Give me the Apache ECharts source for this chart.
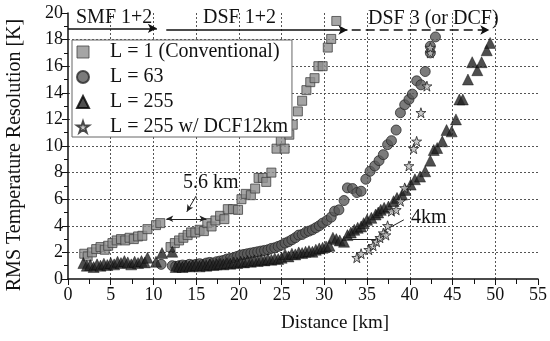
<!DOCTYPE html>
<html><head><meta charset="utf-8">
<script src="https://cdn.jsdelivr.net/npm/echarts@6/dist/echarts.min.js"></script>
<style>html,body{margin:0;padding:0;background:#fff}#c{width:550px;height:341px}</style>
</head><body><div id="c"></div>
<script>
var xTicks = [0,5,10,15,20,25,30,35,40,45,50,55];
var yTicks = [0,2,4,6,8,10,12,14,16,18,20];
var seriesNames = ['L = 1 (Conventional)','L = 63','L = 255','L = 255 w/ DCF12km'];

var sqDist = [1.9,2.3,2.8,3.3,3.8,4.3,4.7,5.2,5.7,6.2,6.7,7.2,7.7,8.2,8.7,9.3,10.3,10.8,
  12.0,12.5,13.0,13.5,14.0,14.4,14.9,15.4,15.9,16.3,16.8,17.25,17.8,18.3,18.7,19.3,19.9,20.3,20.8,21.4,21.9,22.3,22.8,23.2,23.8,24.4,24.9,25.35,25.9,26.3,26.9,27.4,27.9,28.35,28.85,29.3,29.8,30.4,30.8,31.4];
var sqVal = [1.9,1.7,2.0,2.25,2.4,2.2,2.5,2.7,2.9,3.0,2.9,3.1,3.0,3.2,3.25,3.75,4.05,4.2,
  2.4,2.7,2.9,3.1,3.3,3.5,3.5,3.7,3.6,4.2,3.95,4.4,4.75,4.5,5.25,5.25,5.2,6.0,6.4,6.3,6.8,7.6,7.6,7.3,8.0,9.8,10.4,9.8,10.85,11.6,12.6,13.4,14.2,14.8,15.1,16.0,16.0,17.4,18.05,19.4];

var ciDist = [10.9,12.2,12.6,13.0,13.4,13.8,14.2,14.6,15.0,15.4,15.8,16.2,16.6,17.0,17.4,17.8,18.2,18.6,19.0,19.4,19.8,20.2,20.6,21.0,21.4,21.8,22.2,22.6,23.0,23.4,23.8,24.2,24.6,25.0,25.4,25.8,26.2,26.6,27.0,27.4,27.8,28.2,28.6,29.0,29.4,29.8,30.3,30.8,31.2,31.7,32.3,32.7,33.3,33.8,34.3,34.85,35.35,35.9,36.4,36.9,37.4,37.85,38.4,38.9,39.4,39.9,40.3,40.8,41.3,41.8,42.4,42.4,43.0];
var ciVal = [1.1,1.0,0.95,1.0,1.05,1.0,1.1,1.05,1.1,1.15,1.1,1.2,1.25,1.2,1.3,1.35,1.4,1.5,1.55,1.6,1.7,1.8,1.85,1.9,1.95,2.0,2.05,2.1,2.15,2.2,2.3,2.35,2.45,2.55,2.7,2.8,2.95,3.1,3.3,3.35,3.5,3.6,3.7,3.85,4.0,4.2,4.4,4.65,5.1,5.2,5.9,6.85,6.8,6.5,6.6,7.5,8.1,8.5,8.9,9.35,10.1,10.4,11.2,12.5,13.1,13.5,13.9,14.9,14.6,15.6,17.0,17.5,18.2];

var trDist = [1.8,2.2,2.6,3.0,3.4,3.8,4.2,4.6,5.0,5.4,5.8,6.2,6.6,7.0,7.4,7.8,8.2,8.6,9.0,9.3,10.3,11.0,12.2,
  12.6,13.0,13.4,13.8,14.2,14.6,15.0,15.4,15.8,16.2,16.6,17.0,17.4,17.8,18.2,18.6,19.0,19.4,19.8,20.2,20.6,21.0,21.4,21.8,22.2,22.6,23.0,23.4,23.8,24.2,24.6,25.0,25.4,25.8,26.2,26.6,27.0,27.4,27.8,28.2,28.6,29.0,29.4,29.8,30.2,30.6,31.0,31.4,31.8,32.3,32.7,33.1,33.5,33.9,34.3,34.6,35.0,35.5,36.0,36.3,36.6,37.0,37.5,38.1,38.5,39.1,39.5,40.1,40.6,41.2,41.8,42.4,42.8,43.2,43.8,44.3,44.9,45.4,45.8,46.2,46.8,47.3,47.9,48.4,49.0,49.4];
var trVal = [1.2,1.0,1.05,0.9,1.1,1.0,1.15,1.05,1.2,1.1,1.3,1.2,1.35,1.25,1.1,1.3,1.2,1.35,1.25,1.6,1.3,1.95,2.05,
  0.9,0.95,0.9,1.0,0.95,1.0,1.05,0.95,1.05,1.0,1.1,1.05,1.1,1.15,1.1,1.2,1.15,1.25,1.2,1.3,1.25,1.35,1.3,1.4,1.35,1.45,1.4,1.5,1.45,1.55,1.5,1.6,1.85,1.7,1.9,1.85,2.0,1.95,2.05,2.1,2.05,2.2,2.3,2.35,2.45,2.5,3.1,3.0,2.9,2.8,3.3,3.5,3.7,3.85,3.95,4.2,4.45,4.6,4.85,5.0,5.2,5.35,5.45,5.85,6.1,6.35,6.7,7.1,7.5,7.7,8.1,8.9,9.7,9.85,10.35,11.2,11.1,12.0,13.5,13.5,15.0,16.3,15.7,16.3,17.2,17.75];

var stDist = [33.8,34.3,35.2,35.7,36.1,36.5,36.9,37.2,37.4,37.85,38.4,38.9,39.4,39.9,40.45,40.8,41.3,42.0,42.4,42.4];
var stVal = [1.6,1.9,2.2,2.5,2.8,3.1,3.45,3.3,4.0,5.1,5.2,5.85,6.85,8.5,9.8,10.35,12.5,14.5,17.0,17.4];

function pairs(xs, ys){ return xs.map(function(x,i){ return [x, ys[i]]; }); }

var STAR = 'path://M50,2 L61,36 L97,36 L68,57 L79,92 L50,71 L21,92 L32,57 L3,36 L39,36 Z';
var FONT = 'Liberation Serif';

var chart = echarts.init(document.getElementById('c'), null, {renderer:'canvas'});
var option = {
  animation: false,
  backgroundColor: '#fff',
  grid: {left: 68, right: 8, top: 13, bottom: 62},
  xAxis: {
    type: 'value', min: 0, max: 55, interval: 5,
    axisLine: {onZero:false, lineStyle: {color:'#111', width: 1.5}},
    axisTick: {length: 6, lineStyle:{color:'#111'}},
    minorTick: {show: true, splitNumber: 2, length: 5, lineStyle:{color:'#111'}},
    axisLabel: {fontFamily: FONT, fontSize: 18, color:'#111', margin: 7,
      formatter: function(v){ return xTicks.indexOf(v) >= 0 ? String(v) : ''; }},
    splitLine: {show: true, showMinLine:false, showMaxLine:false, lineStyle:{type:[2,2], color:'#555', width:1}}
  },
  yAxis: {
    type: 'value', min: 0, max: 20, interval: 2,
    axisLine: {show:true, lineStyle: {color:'#111', width: 1.5}},
    axisTick: {show:true, length: 6, lineStyle:{color:'#111'}},
    minorTick: {show: true, splitNumber: 2, length: 4, lineStyle:{color:'#111'}},
    axisLabel: {fontFamily: FONT, fontSize: 18, color:'#111', margin: 5,
      formatter: function(v){ return yTicks.indexOf(v) >= 0 ? String(v) : ''; }},
    splitLine: {show: true, showMinLine:false, showMaxLine:false, lineStyle:{type:[2,2], color:'#555', width:1}}
  },
  legend: {
    orient: 'vertical', left: 72, top: 40,
    backgroundColor: '#fff', borderColor: '#666', borderWidth: 1,
    padding: [2, 4, 0, 4], itemGap: 5, itemWidth: 12, itemHeight: 12,
    textStyle: {fontFamily: FONT, fontSize: 20, color:'#111', lineHeight: 20, padding:[0,0,0,16]},
    data: [
      {name: seriesNames[0], icon: 'rect', itemStyle:{borderWidth:1}},
      {name: seriesNames[1], icon: 'circle'},
      {name: seriesNames[2], icon: 'triangle'},
      {name: seriesNames[3], icon: STAR}
    ]
  },
  series: [
    {name: seriesNames[0], type:'scatter', symbol:'rect', symbolSize: 9, z: 2,
     itemStyle:{color:'#8e8e8e', borderColor:'#444', borderWidth:1},
     data: pairs(sqDist, sqVal),
     markLine: {
       silent: true, symbol: ['none','arrow'], symbolSize: [7,9],
       lineStyle: {color:'#111', width: 1.5, type:'solid'}, label:{show:false},
       data: [
         [{coord:[0,18.85]},{coord:[10.4,18.85]}],
         [{coord:[11.5,18.72]},{coord:[32.7,18.72]}],
         [{coord:[33.2,18.72], lineStyle:{type:[9,5]}},{coord:[49.3,18.72]}]
       ]
     }},
    {name: seriesNames[1], type:'scatter', symbol:'circle', symbolSize: 10, z: 3,
     itemStyle:{color:'#5a5a5a', borderColor:'#2a2a2a', borderWidth:1},
     data: pairs(ciDist, ciVal)},
    {name: seriesNames[2], type:'scatter', symbol:'triangle', symbolSize: 11, z: 4,
     itemStyle:{color:'#222', borderColor:'#000', borderWidth:0.5},
     data: pairs(trDist, trVal)},
    {name: seriesNames[3], type:'scatter', symbol: STAR, symbolSize: 10, z: 5,
     itemStyle:{color:'#bdbdbd', borderColor:'#222', borderWidth:1},
     data: pairs(stDist, stVal),
     markLine: {
       silent: true, symbol: ['none','arrow'], symbolSize: [5,7],
       lineStyle: {color:'#222', width: 1, type:'solid'}, label:{show:false},
       data: [
         [{coord:[11.5,4.53], symbol:'arrow'},{coord:[16.2,4.53]}],
         [{coord:[15.0,6.25]},{coord:[13.9,5.05]}],
         [{coord:[32.7,3.02], symbol:'none'},{coord:[36.5,3.02], symbol:'none'}],
         [{coord:[39.3,4.45], symbol:'none'},{coord:[36.9,3.6], symbol:'none'}]
       ]
     }}
  ],
  graphic: [
    {type:'text', left: 76, top: 8, style:{text:'SMF 1+2', font:'20px "Liberation Serif"', fill:'#111'}},
    {type:'text', left: 203, top: 8, style:{text:'DSF 1+2', font:'20px "Liberation Serif"', fill:'#111'}},
    {type:'text', left: 368, top: 9, style:{text:'DSF 3 (or DCF)', font:'20px "Liberation Serif"', fill:'#111'}},
    {type:'text', left: 183, top: 173, style:{text:'5.6 km', font:'20px "Liberation Serif"', fill:'#111'}},
    {type:'text', left: 411, top: 208, style:{text:'4km', font:'20px "Liberation Serif"', fill:'#111'}},
    {type:'text', left: 281, top: 314, style:{text:'Distance [km]', font:'19px "Liberation Serif"', fill:'#111', textAlign:'center'}},
    {type:'text', x: 5, y: 155, rotation: Math.PI/2, style:{text:'RMS Temperature Resolution [K]', font:'20px "Liberation Serif"', fill:'#111', textAlign:'center', textVerticalAlign:'top'}}
  ]
};
chart.setOption(option);
</script>
</body></html>
